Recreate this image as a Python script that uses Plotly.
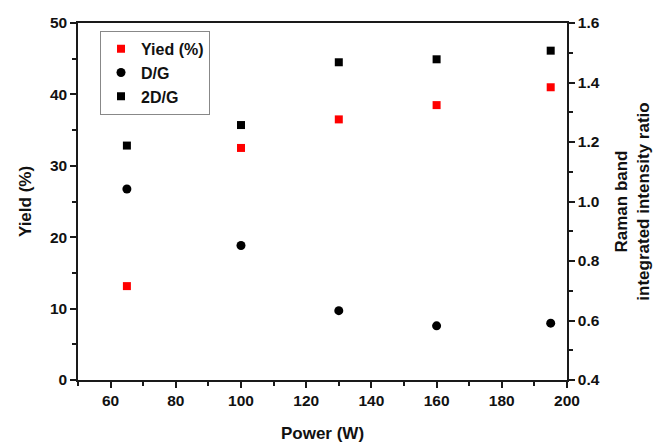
import plotly.graph_objects as go

power = [65, 100, 130, 160, 195]
yield_pct = [13.15, 32.5, 36.5, 38.5, 41.0]
d_g = [1.042, 0.852, 0.633, 0.582, 0.591]
d2_g = [1.188, 1.257, 1.468, 1.478, 1.507]

FONT = "Liberation Sans, Arial, sans-serif"
AX = "#1a1a1a"

fig = go.Figure()
fig.add_trace(go.Scatter(x=power, y=yield_pct, mode="markers", name="<b>Yied (%)</b>",
                         marker=dict(symbol="square", size=8, color="#ff0000"), yaxis="y"))
fig.add_trace(go.Scatter(x=power, y=d_g, mode="markers", name="<b>D/G</b>",
                         marker=dict(symbol="circle", size=9, color="#000000"), yaxis="y2"))
fig.add_trace(go.Scatter(x=power, y=d2_g, mode="markers", name="<b>2D/G</b>",
                         marker=dict(symbol="square", size=8, color="#000000"), yaxis="y2"))

tickfont = dict(family=FONT, size=15.5, color="#111")
titlefont = dict(family=FONT, size=17, color="#111")

fig.update_layout(
    width=654, height=443,
    margin=dict(l=78, r=87, t=23, b=63),
    plot_bgcolor="white", paper_bgcolor="white",
    showlegend=True,
    legend=dict(x=0.045, y=0.978, xanchor="left", yanchor="top",
                bordercolor="#888", borderwidth=1, bgcolor="white",
                font=dict(family=FONT, size=16, color="#111"),
                itemwidth=30, tracegroupgap=0),
    xaxis=dict(range=[50, 200], dtick=20, tick0=0, automargin=False,
               showline=True, linecolor=AX, linewidth=1.5, mirror=True,
               ticks="outside", ticklen=6, tickwidth=1.5, tickcolor=AX,
               minor=dict(dtick=10, ticks="outside", ticklen=4, tickwidth=1.5, tickcolor=AX),
               showgrid=False, zeroline=False,
               tickfont=tickfont, tickprefix="<b>", ticksuffix="</b>",
               title=dict(text="<b>Power (W)</b>", font=titlefont, standoff=22)),
    yaxis=dict(range=[0, 50], dtick=10, automargin=False,
               showline=True, linecolor=AX, linewidth=1.5,
               ticks="outside", ticklen=6, tickwidth=1.5, tickcolor=AX,
               minor=dict(dtick=5, ticks="outside", ticklen=4, tickwidth=1.5, tickcolor=AX),
               showgrid=False, zeroline=False,
               tickfont=tickfont, tickprefix="<b>", ticksuffix="</b>",
               title=dict(text="<b>Yield (%)</b>", font=titlefont, standoff=14)),
    yaxis2=dict(range=[0.4, 1.6], dtick=0.2, tickformat=".1f", overlaying="y", side="right",
                automargin=False,
                showline=True, linecolor=AX, linewidth=1.5,
                ticks="outside", ticklen=6, tickwidth=1.5, tickcolor=AX,
                minor=dict(dtick=0.1, ticks="outside", ticklen=4, tickwidth=1.5, tickcolor=AX),
                showgrid=False, zeroline=False,
                tickfont=tickfont, tickprefix="<b>", ticksuffix="</b>",
                title=dict(text="<b>Raman band<br>integrated intensity ratio</b>", font=titlefont, standoff=16)),
)

fig.write_html("out.html")
